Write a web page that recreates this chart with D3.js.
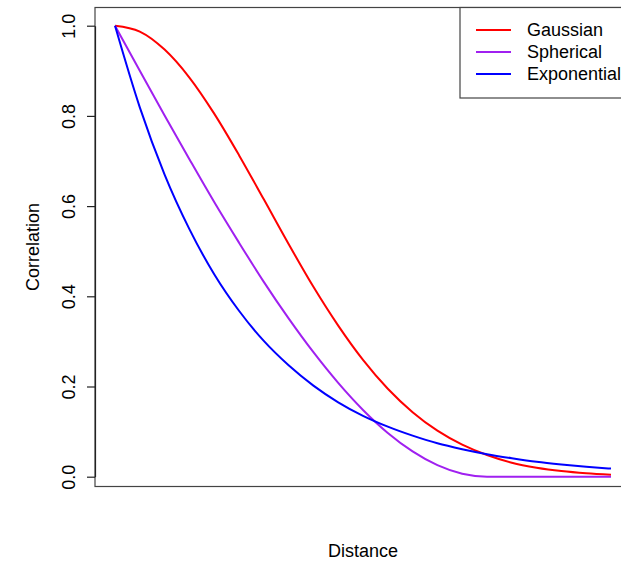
<!DOCTYPE html>
<html>
<head>
<meta charset="utf-8">
<script src="https://cdn.jsdelivr.net/npm/d3@7"></script>
<style>
  body { margin: 0; background: #fff; }
  svg { display: block; font-family: Arial, "Liberation Sans", Helvetica, sans-serif; }
</style>
</head>
<body>
<svg id="chart" width="621" height="561"></svg>
<script>
// distance (no ticks drawn on the x axis)
const distance = [0, 0.05, 0.1, 0.15, 0.2, 0.25, 0.3, 0.35, 0.4, 0.45, 0.5,
                  0.55, 0.6, 0.65, 0.7, 0.75, 0.8, 0.85, 0.9, 0.95, 1];
const gaussian = [1, 0.987, 0.947, 0.885, 0.805, 0.713, 0.615, 0.516, 0.421, 0.335, 0.259,
                  0.195, 0.143, 0.102, 0.071, 0.048, 0.031, 0.020, 0.0125, 0.0076, 0.0045];
const spherical = [1, 0.900, 0.801, 0.704, 0.609, 0.519, 0.432, 0.351, 0.276, 0.208, 0.148,
                   0.097, 0.056, 0.0255, 0.0065, 0, 0, 0, 0, 0, 0];
const exponential = [1, 0.819, 0.670, 0.549, 0.449, 0.368, 0.301, 0.247, 0.202, 0.165, 0.135,
                     0.111, 0.091, 0.074, 0.061, 0.050, 0.041, 0.033, 0.027, 0.022, 0.018];
const yTicks = [0, 0.2, 0.4, 0.6, 0.8, 1.0];
const seriesNames = ['Gaussian', 'Spherical', 'Exponential'];
const seriesColors = ['#ff0000', '#a020f0', '#0000ff'];

const svg = d3.select('#chart');

// plot box (R style, 4% padding around data)
const box = { left: 95, right: 631, top: 7.5, bottom: 486.5 };

const x = d3.scaleLinear().domain([0, 1]).range([115, 611]);
const y = d3.scaleLinear().domain([0, 1]).range([476.7, 25.7]);

// Curves
const line = d3.line()
    .x(d => x(d[0]))
    .y(d => y(d[1]))
    .curve(d3.curveMonotoneX);

const series = [gaussian, spherical, exponential];
series.forEach((vals, i) => {
    svg.append('path')
        .datum(distance.map((dd, j) => [dd, vals[j]]))
        .attr('fill', 'none')
        .attr('stroke', seriesColors[i])
        .attr('stroke-width', 2)
        .attr('d', line);
});

// Box
svg.append('rect')
    .attr('x', box.left)
    .attr('y', box.top)
    .attr('width', box.right - box.left)
    .attr('height', box.bottom - box.top)
    .attr('fill', 'none')
    .attr('stroke', '#444')
    .attr('stroke-width', 1.2);

// Y axis
const yAxis = svg.append('g')
    .attr('transform', `translate(${box.left},0)`)
    .call(d3.axisLeft(y)
        .tickValues(yTicks)
        .tickSize(8)
        .tickSizeOuter(0)
        .tickFormat(d3.format('.1f')));
yAxis.select('.domain').attr('stroke', '#222').attr('stroke-width', 1.2);
yAxis.selectAll('.tick line').attr('stroke', '#222').attr('stroke-width', 1.2);
yAxis.selectAll('.tick text')
    .attr('x', null)
    .attr('dy', null)
    .attr('text-anchor', 'middle')
    .attr('transform', 'translate(-20,0) rotate(-90)')
    .attr('fill', '#000')
    .style('font-size', '18px')
    .style('font-family', 'Arial, "Liberation Sans", sans-serif');

// Axis titles
svg.append('text')
    .attr('x', (box.left + box.right) / 2)
    .attr('y', 557)
    .attr('text-anchor', 'middle')
    .style('font-size', '18px')
    .text('Distance');

svg.append('text')
    .attr('transform', `translate(39,${(box.top + box.bottom) / 2}) rotate(-90)`)
    .attr('text-anchor', 'middle')
    .style('font-size', '18px')
    .text('Correlation');

// Legend
const legend = svg.append('g');
legend.append('rect')
    .attr('x', 460)
    .attr('y', box.top)
    .attr('width', 200)
    .attr('height', 98 - box.top)
    .attr('fill', '#fff')
    .attr('stroke', '#444')
    .attr('stroke-width', 1.2);

seriesNames.forEach((name, i) => {
    const ly = 30 + i * 22;
    legend.append('line')
        .attr('x1', 476).attr('x2', 511)
        .attr('y1', ly).attr('y2', ly)
        .attr('stroke', seriesColors[i])
        .attr('stroke-width', 2);
    legend.append('text')
        .attr('x', 527)
        .attr('y', ly + 6)
        .style('font-size', '18px')
        .text(name);
});
</script>
</body>
</html>
